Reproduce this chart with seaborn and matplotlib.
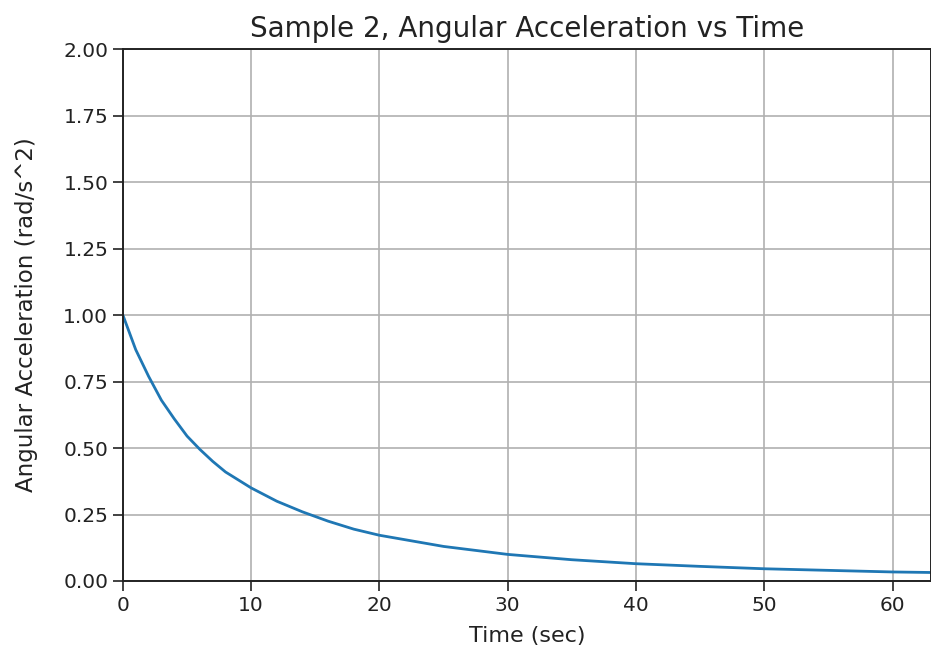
import matplotlib
matplotlib.use("Agg")
import matplotlib.pyplot as plt
import seaborn as sns
import pandas as pd

# values
time_sec = [0, 1, 2, 3, 4, 5, 6, 7, 8, 9, 10, 12, 14, 16, 18, 20, 25, 30,
            35, 40, 45, 50, 55, 60, 63]
ang_acc = [1.00, 0.87, 0.77, 0.68, 0.61, 0.545, 0.495, 0.45, 0.41, 0.38,
           0.35, 0.30, 0.26, 0.225, 0.195, 0.172, 0.13, 0.10, 0.08, 0.065,
           0.055, 0.046, 0.04, 0.034, 0.032]

df = pd.DataFrame({"t": time_sec, "a": ang_acc})

fig = plt.figure(figsize=(9.31, 6.64), dpi=100)
ax = fig.add_axes([0.132, 0.125, 0.868, 0.801])

sns.lineplot(data=df, x="t", y="a", ax=ax, color="#1f77b4", linewidth=2)

ax.set_xlim(0, 63)
ax.set_ylim(0, 2.0)
ax.set_yticks([0, 0.25, 0.5, 0.75, 1.0, 1.25, 1.5, 1.75, 2.0])
ax.set_yticklabels(["0.00", "0.25", "0.50", "0.75", "1.00", "1.25", "1.50", "1.75", "2.00"])
ax.set_xticks([0, 10, 20, 30, 40, 50, 60])
ax.tick_params(labelsize=14.5, length=7, width=1.2, colors="#222222")
for s in ax.spines.values():
    s.set_linewidth(1.4)
    s.set_color("#222222")
ax.grid(True, color="#b0b0b0", linewidth=1.2)
ax.set_axisbelow(True)

ax.set_title("Sample 2, Angular Acceleration vs Time", fontsize=20, pad=9, color="#222222")
ax.set_xlabel("Time (sec)", fontsize=16, labelpad=8, color="#222222")
ax.set_ylabel("Angular Acceleration (rad/s^2)", fontsize=16.5, labelpad=18, color="#222222")

fig.savefig("out.png", dpi=100)
